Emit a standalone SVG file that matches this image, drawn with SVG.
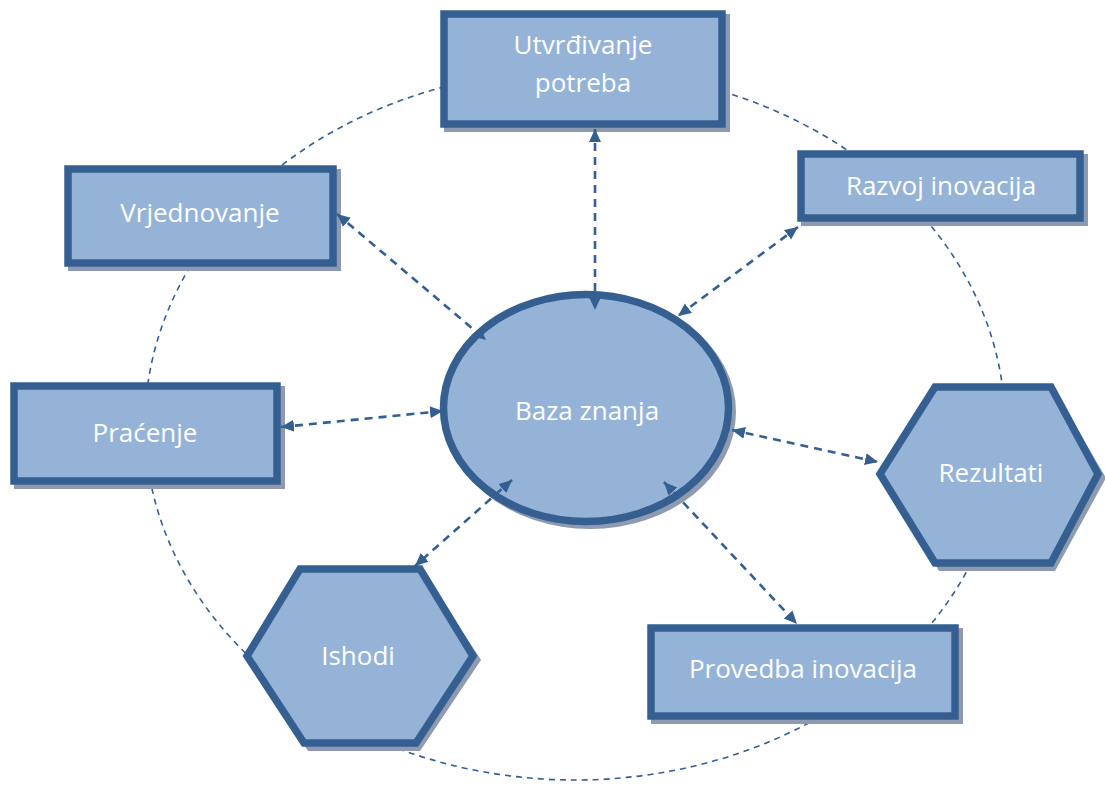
<svg xmlns="http://www.w3.org/2000/svg" width="1105" height="789" viewBox="0 0 1105 789">
<style>
.shadow{fill:#8E9AAF}
.node{fill:#95B3D7;stroke:#365F91;stroke-width:7.5}
.lbl{font-family:"Open Sans","Noto Sans",sans-serif;font-size:26px;fill:#FFFFFF;text-anchor:middle}
.ring{fill:none;stroke:#365F91;stroke-width:1.6;stroke-dasharray:6 5}
.conn{fill:none;stroke:#365F91;stroke-width:2.6;stroke-dasharray:8 6}
</style>
<defs>
<marker id="arr" markerUnits="userSpaceOnUse" markerWidth="14" markerHeight="14" refX="13" refY="7" orient="auto-start-reverse">
<path d="M0,1 L13,7 L0,13 z" fill="#365F91"/>
</marker>
</defs>
<rect width="1105" height="789" fill="#FFFFFF"/>
<g id="ring">
<ellipse class="ring" cx="575" cy="425" rx="430" ry="355"/>
</g>
<g id="utvrdivanje">
<rect class="shadow" x="444" y="14" width="286" height="118"/>
<rect class="node" x="444" y="14" width="278" height="110"/>
<text class="lbl" x="583" y="54">Utvrđivanje</text>
<text class="lbl" x="583" y="92">potreba</text>
</g>
<g id="razvoj">
<rect class="shadow" x="801" y="154" width="287" height="72"/>
<rect class="node" x="801" y="154" width="279" height="64"/>
<text class="lbl" x="941" y="195">Razvoj inovacija</text>
</g>
<g id="vrjednovanje">
<rect class="shadow" x="68" y="169" width="273" height="102"/>
<rect class="node" x="68" y="169" width="265" height="94"/>
<text class="lbl" x="200" y="222">Vrjednovanje</text>
</g>
<g id="pracenje">
<rect class="shadow" x="14" y="386" width="271" height="103"/>
<rect class="node" x="14" y="386" width="263" height="95"/>
<text class="lbl" x="145" y="442">Praćenje</text>
</g>
<g id="provedba">
<rect class="shadow" x="651" y="628" width="312" height="96"/>
<rect class="node" x="651" y="628" width="304" height="88"/>
<text class="lbl" x="803" y="678">Provedba inovacija</text>
</g>
<g id="baza">
<ellipse class="shadow" cx="590" cy="412" rx="146" ry="117"/>
<ellipse class="node" cx="586" cy="408" rx="142.5" ry="113.5"/>
<text class="lbl" x="587" y="420">Baza znanja</text>
</g>
<g id="rezultati">
<polygon class="shadow" points="884,478 939,391 1055,391 1106,478 1055,571 939,571"/>
<polygon class="node" points="880,474 935,387 1051,387 1098,474 1051,563 935,563"/>
<text class="lbl" x="991" y="482">Rezultati</text>
</g>
<g id="ishodi">
<polygon class="shadow" points="251,660 304,573 424,573 481,660 420,751 308,751"/>
<polygon class="node" points="247,656 300,569 420,569 473,656 416,743 304,743"/>
<text class="lbl" x="358" y="665">Ishodi</text>
</g>
<g id="connectors">
<line class="conn" x1="595" y1="129" x2="595" y2="310" marker-start="url(#arr)" marker-end="url(#arr)"/>
<line class="conn" x1="798" y1="227" x2="678" y2="316" marker-start="url(#arr)" marker-end="url(#arr)"/>
<line class="conn" x1="337" y1="214" x2="486" y2="340" marker-start="url(#arr)" marker-end="url(#arr)"/>
<line class="conn" x1="281" y1="427" x2="443" y2="411" marker-start="url(#arr)" marker-end="url(#arr)"/>
<line class="conn" x1="732" y1="430" x2="878" y2="462" marker-start="url(#arr)" marker-end="url(#arr)"/>
<line class="conn" x1="664" y1="482" x2="797" y2="624" marker-start="url(#arr)" marker-end="url(#arr)"/>
<line class="conn" x1="512" y1="480" x2="415" y2="566" marker-start="url(#arr)" marker-end="url(#arr)"/>
</g>
</svg>
